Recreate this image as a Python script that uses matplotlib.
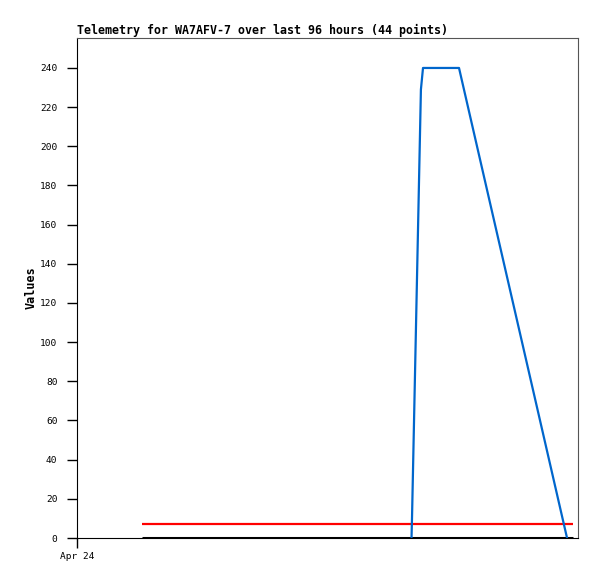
import matplotlib
matplotlib.use("Agg")
from matplotlib import pyplot as plt

# hours since Apr 24 00:00
blue_t = [64.1, 64.2, 65.9, 66.3, 73.2, 93.9]
blue_v = [0, 11, 229, 240, 240, 0]
red_t = [12.45, 95.0]
red_v = [7, 7]
black_t = [12.45, 95.0]
black_v = [0, 0]

xtick_pos = [0]
xtick_labels = ["Apr 24"]
ytick_pos = list(range(0, 241, 20))

fig = plt.figure(figsize=(5.97, 5.79), dpi=100)
ax = fig.add_axes([77/597, 41/579, 501/597, 500/579])

ax.plot(black_t, black_v, color="black", lw=2.2, solid_capstyle="butt")
ax.plot(red_t, red_v, color="#ff0000", lw=1.6, solid_capstyle="butt")
ax.plot(blue_t, blue_v, color="#0066cc", lw=1.6)

ax.set_xlim(0, 96)
ax.set_ylim(0, 255.3)
ax.set_xticks(xtick_pos)
ax.set_xticklabels(xtick_labels, family="DejaVu Sans Mono", fontsize=6.8)
ax.set_yticks(ytick_pos)
ax.set_yticklabels([str(v) for v in ytick_pos], family="DejaVu Sans Mono", fontsize=6.8)
ax.tick_params(axis="y", direction="out", length=7, width=1, pad=7)
ax.tick_params(axis="x", direction="out", length=7, width=1, pad=3)

for s in ["top", "right"]:
    ax.spines[s].set_color("#555555")
ax.spines["left"].set_color("black")
ax.spines["bottom"].set_color("black")

ax.set_ylabel("Values", family="DejaVu Sans Mono", fontweight="bold", fontsize=8.5)
ax.yaxis.set_label_coords(-0.079, 0.5)
ax.set_title("Telemetry for WA7AFV-7 over last 96 hours (44 points)", family="DejaVu Sans Mono",
             fontweight="bold", fontsize=8.4, loc="left", pad=3)

fig.savefig("out.png", dpi=100)
